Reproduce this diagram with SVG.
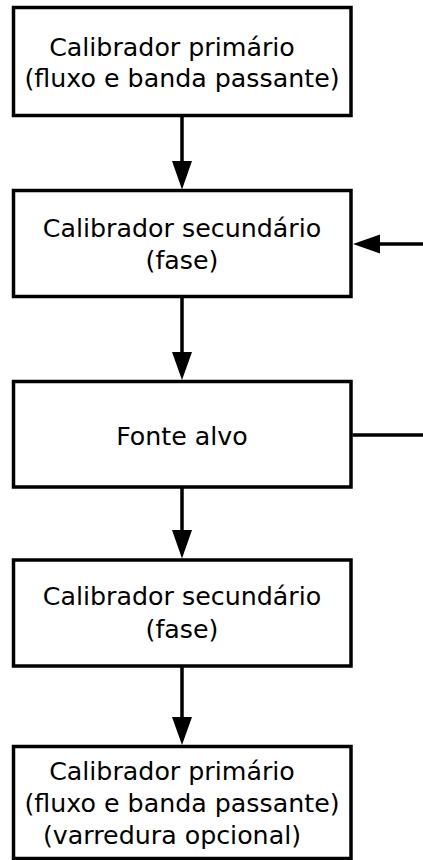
<svg xmlns="http://www.w3.org/2000/svg" width="423" height="860" viewBox="0 0 423 860">
<style>
.box{fill:#fff;stroke:#000;stroke-width:3.5}
.lbl{font-family:"DejaVu Sans",sans-serif;font-size:25.3px;fill:#000;text-anchor:middle}
.ln{stroke:#000;stroke-width:3.5;fill:none}
.ah{fill:#000;stroke:none}
</style>
<rect width="423" height="860" fill="#fff"/>
<g id="connectors">
<line class="ln" x1="182" y1="116" x2="182" y2="165"/>
<polygon class="ah" points="172,161 192,161 182,189.5"/>
<line class="ln" x1="182" y1="297" x2="182" y2="356"/>
<polygon class="ah" points="172,352 192,352 182,380"/>
<line class="ln" x1="182" y1="488" x2="182" y2="534"/>
<polygon class="ah" points="172,530 192,530 182,558.5"/>
<line class="ln" x1="182" y1="667" x2="182" y2="721"/>
<polygon class="ah" points="172,717 192,717 182,745"/>
<line class="ln" x1="376" y1="244" x2="423" y2="244"/>
<polygon class="ah" points="353,244 380,234.5 380,253.5"/>
<line class="ln" x1="352.5" y1="435" x2="423" y2="435"/>
</g>
<g id="n1">
<rect class="box" x="13.5" y="7.5" width="337.5" height="108"/>
<text class="lbl" x="172" y="56">Calibrador primário</text>
<text class="lbl" x="182" y="87">(fluxo e banda passante)</text>
</g>
<g id="n2">
<rect class="box" x="13.5" y="190.5" width="337.5" height="106"/>
<text class="lbl" x="182" y="237">Calibrador secundário</text>
<text class="lbl" x="182" y="268.5">(fase)</text>
</g>
<g id="n3">
<rect class="box" x="13.5" y="381.5" width="337.5" height="105.5"/>
<text class="lbl" x="182" y="445">Fonte alvo</text>
</g>
<g id="n4">
<rect class="box" x="13.5" y="560" width="337.5" height="106"/>
<text class="lbl" x="182" y="605">Calibrador secundário</text>
<text class="lbl" x="182" y="637.5">(fase)</text>
</g>
<g id="n5">
<rect class="box" x="13.5" y="746.5" width="337.5" height="112"/>
<text class="lbl" x="172" y="780">Calibrador primário</text>
<text class="lbl" x="182" y="811.5">(fluxo e banda passante)</text>
<text class="lbl" x="172" y="843.5">(varredura opcional)</text>
</g>
</svg>
